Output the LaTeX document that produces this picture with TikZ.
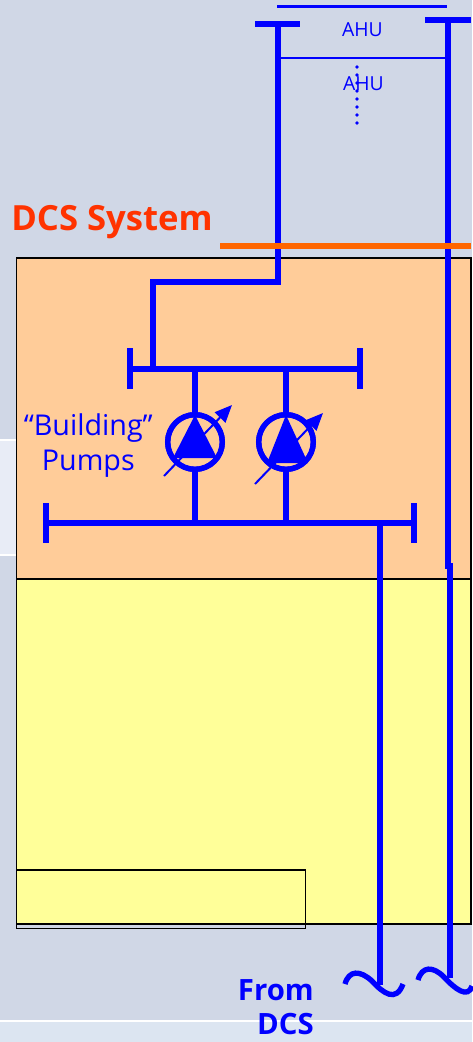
\documentclass[tikz,border=0pt]{standalone}
\usepackage{fontspec}
\setsansfont{Open Sans}
\tikzset{every picture/.style={/utils/exec={\sffamily}}}
\usetikzlibrary{calc}
\usetikzlibrary{positioning}
\usetikzlibrary{arrows.meta}
\definecolor{slide}{HTML}{D0D7E6}
\definecolor{band}{HTML}{E8ECF6}
\definecolor{foot}{HTML}{DCE5F1}
\definecolor{dcszone}{HTML}{FFCC99}
\definecolor{plantzone}{HTML}{FFFF99}
\definecolor{pipe}{HTML}{0000FF}
\definecolor{limit}{HTML}{FF6600}
\definecolor{title}{HTML}{FF3300}
\tikzset{
  main/.style={draw=pipe, line width=4.5pt},
  thin pipe/.style={draw=pipe, line width=1.6pt},
  zone/.style={draw=black, line width=1.2pt},
  label/.style={text=pipe, inner sep=0pt, align=center},
  source/.style={text=pipe, font=\fontsize{22pt}{28pt}\selectfont\bfseries, inner sep=0pt, anchor=base east},
  pump/.style={circle, draw=pipe, fill=dcszone, line width=4pt, minimum size=41pt, inner sep=0pt},
  dial/.style={draw=pipe, line width=1.5pt, -{Triangle[length=13pt,width=11pt]}}
}

\begin{document}
\begin{tikzpicture}[x=0.75pt, y=-0.75pt]
  \useasboundingbox (0,0) rectangle (472,1042);
  \fill [slide] (0,0) rectangle (472,1042);
  \fill [band] (0,440) rectangle (16,555);
  \draw [white, line width=1.5pt] (0,440) -- (16,440) (0,555) -- (16,555);
  \fill [foot] (0,1021) rectangle (472,1042);
  \draw [white, line width=1.5pt] (0,1021) -- (472,1021);

  \draw [zone, fill=dcszone] (16.5,258) rectangle (471,579);
  \draw [zone, fill=plantzone] (16.5,579) rectangle (471,924);
  \draw [zone] (16.5,870) rectangle (305.5,928.5);

  % coil loop at the top
  \coordinate (s0) at (277.5,24);
  \coordinate (r0) at (448,20);
  \draw [thin pipe] (277,6.5) -- (447,6.5);
  \draw [thin pipe] (s0 |- 0,58) -- (r0 |- 0,58);
  \draw [main] (255,24) -- (300,24);
  \draw [main] (425,20) -- (471,20);
  \node [label, font=\fontsize{14.5pt}{18pt}\selectfont] (ahu1) at (362.5,30) {AHU};
  \node [label, font=\fontsize{14.5pt}{18pt}\selectfont] (ahu2) at (363.5,84) {AHU};
  \foreach \y in {67,75,...,123}
    \fill [pipe] (357,\y) circle (1.4pt);

  % supply side
  \coordinate (s1) at (277.5,282);
  \coordinate (s2) at (153,369);
  \draw [main] (s0) |- (s1) -| (s2);

  \coordinate (h1) at (130,369);
  \coordinate (h2) at (360,369);
  \coordinate (b1) at (46,523);
  \coordinate (b2) at (414,523);
  \draw [main] (h1) -- (h2);
  \draw [main] (b1) -- (b2);
  \draw [main] ($(h1)+(0,-21)$) -- ($(h1)+(0,20)$);
  \draw [main] ($(h2)+(0,-21)$) -- ($(h2)+(0,20)$);
  \draw [main] ($(b1)+(0,-20)$) -- ($(b1)+(0,20)$);
  \draw [main] ($(b2)+(0,-20)$) -- ($(b2)+(0,20)$);

  % pumps
  \node [pump] (p1) at (195,442) {};
  \node [pump] (p2) at (286,442) {};
  \draw [main] (p1 |- h1) -- (p1);
  \draw [main] (p2 |- h1) -- (p2);
  \draw [main] (p1) -- (p1 |- b1);
  \draw [main] (p2) -- (p2 |- b1);
  \node [pump, fill=none] at (p1) {};
  \node [pump, fill=none] at (p2) {};
  \fill [pipe] (195,415) -- (217,458) -- (173,458) -- cycle;
  \fill [pipe] (286,415) -- (308,463) -- (267,463) -- cycle;
  \draw [dial] (164,476) -- (232,405);
  \draw [dial] (255,484) -- (323,413);
  \node [label, font=\fontsize{21.5pt}{26.5pt}\selectfont, left=9pt of p1, yshift=-2.5pt] (pumps) {“Building”\\Pumps};

  % return side
  \coordinate (d1) at (380,985);
  \coordinate (d2) at (450,978);
  \draw [main] (380,523) -- (d1);
  \draw [main] (r0) -- (448,566) -- (450,566) -- (d2);

  % plant limit
  \coordinate (l1) at (220,246);
  \coordinate (l2) at (471,246);
  \draw [draw=limit, line width=4.5pt] (l1) -- (l2);
  \node [text=title, font=\fontsize{26pt}{28pt}\selectfont\bfseries, inner sep=0pt, anchor=base west] (dcs) at (11,230) {DCS System};

  % breaks
  \draw [main, line width=4pt] (345,984) .. controls (349,970) and (360,970) .. (372,981) .. controls (383,993) and (396,1003) .. (403,984);
  \draw [main, line width=4pt] (418,980) .. controls (422,966) and (433,966) .. (444,977) .. controls (455,989) and (468,999) .. (472,986);
  \node [source] (from) at (314,1000) {From};
  \node [source] (fromdcs) at (314,1034) {DCS};
\end{tikzpicture}
\end{document}
